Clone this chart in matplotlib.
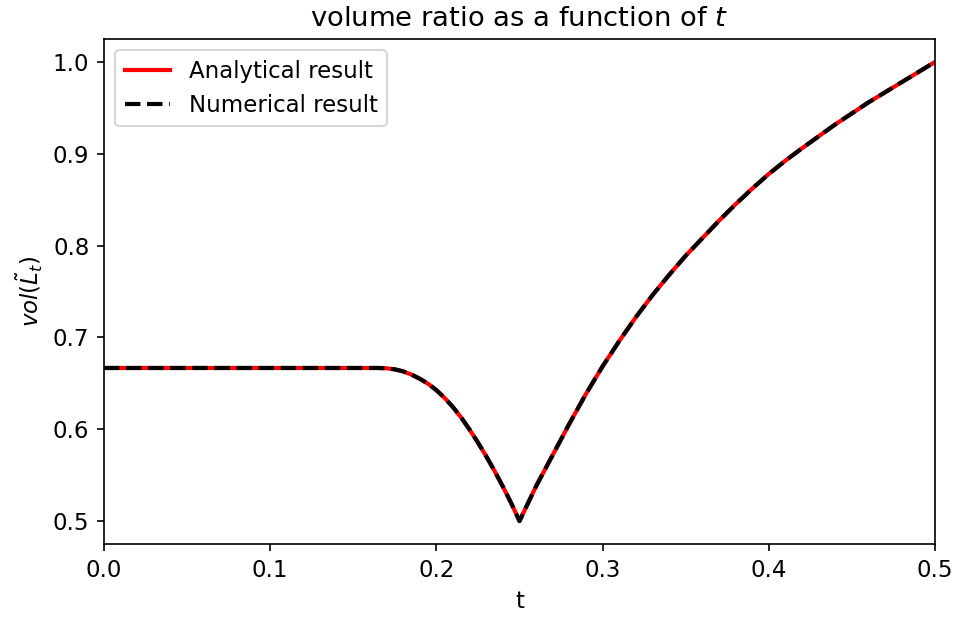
import numpy as np
import matplotlib
matplotlib.use("Agg")
import matplotlib.pyplot as plt

plt.rcParams["font.size"] = 11

# values
t_vals = [0.0, 0.05, 0.10, 0.15, 0.165, 0.17, 0.175, 0.18, 0.185, 0.19, 0.195,
          0.20, 0.205, 0.21, 0.215, 0.22, 0.225, 0.23, 0.235, 0.24, 0.245, 0.25,
          0.26, 0.27, 0.28, 0.29, 0.30, 0.31, 0.32, 0.33, 0.34, 0.35, 0.36,
          0.37, 0.38, 0.39, 0.40, 0.41, 0.42, 0.43, 0.44, 0.45, 0.46, 0.47,
          0.48, 0.49, 0.50]
analytical = [0.6667, 0.6667, 0.6667, 0.6667, 0.6667, 0.6664, 0.6652, 0.6630,
              0.6595, 0.6550, 0.6495, 0.6425, 0.6340, 0.6240, 0.6125, 0.5995,
              0.5855, 0.5705, 0.5545, 0.5375, 0.5195, 0.5000,
              0.538, 0.572, 0.606, 0.6385, 0.6685, 0.696, 0.722, 0.746, 0.768,
              0.789, 0.808, 0.827, 0.845, 0.862, 0.878, 0.8925, 0.906, 0.919,
              0.932, 0.944, 0.956, 0.967, 0.978, 0.989, 1.000]
numerical = [0.6667, 0.6667, 0.6667, 0.6667, 0.6667, 0.6664, 0.6652, 0.6630,
             0.6595, 0.6550, 0.6495, 0.6425, 0.6340, 0.6240, 0.6125, 0.5995,
             0.5855, 0.5705, 0.5545, 0.5375, 0.5195, 0.5000,
             0.538, 0.572, 0.606, 0.6385, 0.6685, 0.696, 0.722, 0.746, 0.768,
             0.789, 0.808, 0.827, 0.845, 0.862, 0.878, 0.8925, 0.906, 0.919,
             0.932, 0.944, 0.956, 0.967, 0.978, 0.989, 1.000]

fig = plt.figure(figsize=(955 / 150, 617 / 150), dpi=150)
ax = fig.add_axes([104 / 955, 1 - 544 / 617, 831 / 955, 505 / 617])

ax.plot(t_vals, analytical, color="red", linewidth=2, label="Analytical result")
ax.plot(t_vals, numerical, color="black", linestyle="--", linewidth=2,
        label="Numerical result")

ax.set_xlim(0, 0.5)
ax.set_title("volume ratio as a function of $t$")
ax.set_xlabel("t")
ax.set_ylabel(r"$vol(\tilde{L}_t)$")
ax.legend(loc="upper left")

fig.savefig("out.png", dpi=150)
